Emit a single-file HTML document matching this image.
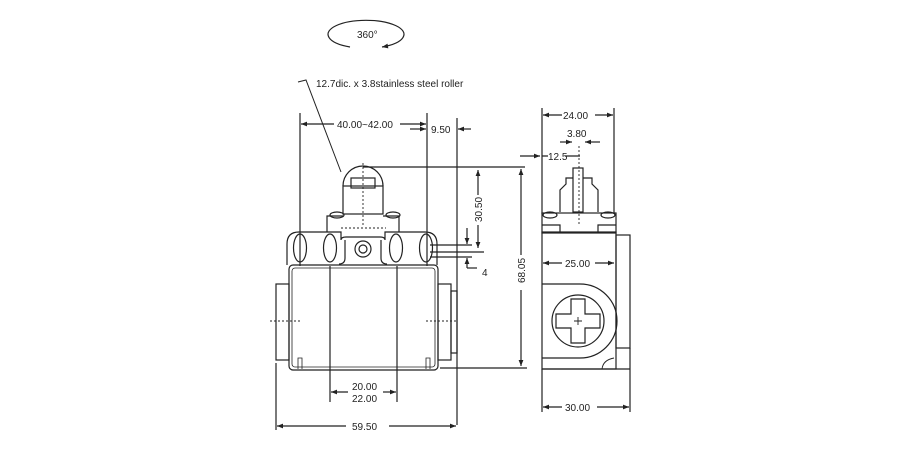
<!DOCTYPE html>
<html><head><style>html,body{margin:0;padding:0;background:#fff}svg{display:block}text{font-family:"Liberation Sans",sans-serif;font-size:10px;fill:#222}</style></head><body>
<svg width="900" height="450" viewBox="0 0 900 450" xmlns="http://www.w3.org/2000/svg">
<defs><marker id="a" viewBox="0 0 10 10" refX="10" refY="5" markerWidth="7" markerHeight="5" orient="auto-start-reverse"><path d="M0,1 L10,5 L0,9 z" fill="#222"/></marker></defs>
<g stroke="#222" fill="none" stroke-width="1.2">
<!-- 360 -->
<path d="M350,47 A38,14 0 1 1 382,47" marker-end="url(#a)"/>
<path d="M298,82 L306,80 L341,172" stroke-width="1"/>
<!-- front view -->
<path d="M343,186 A20,20 0 0 1 383,186"/>
<rect x="343" y="186" width="40" height="28"/>
<rect x="351" y="178" width="24" height="10"/>
<path d="M327,232 V216 H343 M383,216 H399 V232"/>
<ellipse cx="337" cy="215" rx="7" ry="3"/><ellipse cx="393" cy="215" rx="7" ry="3"/>
<path d="M287,265 V244 Q287,232 299,232 H341 V240 Q341,237 346,237 H380 Q385,237 385,240 V232 H425 Q437,232 437,244 V265"/>
<path d="M345,240 V258 Q345,264 339,264 M381,240 V258 Q381,264 387,264"/>
<ellipse cx="300" cy="248" rx="6.5" ry="14"/><ellipse cx="330" cy="248" rx="6.5" ry="14"/>
<ellipse cx="396" cy="248" rx="6.5" ry="14"/><ellipse cx="426" cy="248" rx="6.5" ry="14"/>
<circle cx="363" cy="249" r="8"/><circle cx="363" cy="249" r="4"/>
<rect x="289" y="265" width="149" height="105" rx="4"/>
<rect x="292" y="268" width="143" height="99" rx="3" stroke-width="0.8"/>
<rect x="276" y="284" width="13" height="76"/>
<rect x="438" y="284" width="13" height="76"/><rect x="451" y="291" width="6" height="62"/>
<path d="M298,369 V358 H302 V369 M426,369 V358 H430 V369" stroke-width="0.8"/>
<path d="M363,163 V225 M341,228 H386 M270,321 H302 M426,321 H458" stroke-dasharray="2,2" stroke-width="0.9"/>
<!-- dims front -->
<path d="M300,113 V266 M427,113 V266 M457,118 V425 M363,167 H525 M440,368 H527"/>
<path d="M330,266 V402 M397,266 V402 M276,363 V430"/>
<line x1="334" y1="124" x2="301" y2="124" marker-end="url(#a)"/>
<line x1="400" y1="124" x2="426" y2="124" marker-end="url(#a)"/>
<line x1="410" y1="129" x2="426" y2="129" marker-end="url(#a)"/>
<line x1="471" y1="129" x2="458" y2="129" marker-end="url(#a)"/>
<line x1="348" y1="392" x2="331" y2="392" marker-end="url(#a)"/>
<line x1="383" y1="392" x2="396" y2="392" marker-end="url(#a)"/>
<line x1="346" y1="426" x2="277" y2="426" marker-end="url(#a)"/>
<line x1="389" y1="426" x2="456" y2="426" marker-end="url(#a)"/>
<line x1="521" y1="255" x2="521" y2="169" marker-end="url(#a)"/>
<line x1="521" y1="290" x2="521" y2="366" marker-end="url(#a)"/>
<line x1="478" y1="195" x2="478" y2="170" marker-end="url(#a)"/>
<line x1="478" y1="225" x2="478" y2="248" marker-end="url(#a)"/>
<path d="M430,245 H472 M430,252 H484 M430,257 H472"/>
<line x1="467" y1="228" x2="467" y2="244" marker-end="url(#a)"/>
<path d="M477,268 H467"/><line x1="467" y1="268" x2="467" y2="258" marker-end="url(#a)"/>
<!-- side view -->
<path d="M542,108 V214 M614,108 V214"/>
<line x1="562" y1="115" x2="543" y2="115" marker-end="url(#a)"/>
<line x1="595" y1="115" x2="613" y2="115" marker-end="url(#a)"/>
<line x1="560" y1="142" x2="572" y2="142" marker-end="url(#a)"/>
<line x1="600" y1="142" x2="585" y2="142" marker-end="url(#a)"/>
<line x1="520" y1="156" x2="540" y2="156" marker-end="url(#a)"/>
<path d="M542,156 H548 M565,156 H580"/>
<rect x="573" y="168" width="10" height="44"/>
<path d="M560,212 V190 L566,184 V178 H573 M598,212 V190 L592,184 V178 H583"/>
<ellipse cx="550" cy="215" rx="7" ry="3"/><ellipse cx="608" cy="215" rx="7" ry="3"/>
<rect x="542" y="213" width="74" height="20"/>
<path d="M560,233 V225 H542 M598,233 V225 H616"/>
<rect x="542" y="232" width="74" height="137"/>
<rect x="616" y="235" width="14" height="113"/>
<path d="M542,284 H580 A36,36 0 0 1 580,358 H542"/>
<circle cx="578" cy="321" r="26"/>
<path d="M571,299 H585 V314 H600 V328 H585 V343 H571 V328 H556 V314 H571 Z"/>
<path d="M602,369 Q603,360 614,358" stroke-width="0.9"/>
<path d="M542,369 V412 M630,348 V412 M542,369 H630"/>
<path d="M579,146 V225" stroke-dasharray="2,2" stroke-width="0.9"/>
<path d="M574,321 H582 M578,317 V325" stroke-width="0.9"/>
<line x1="562" y1="263" x2="543" y2="263" marker-end="url(#a)"/>
<line x1="595" y1="263" x2="614" y2="263" marker-end="url(#a)"/>
<line x1="562" y1="407" x2="543" y2="407" marker-end="url(#a)"/>
<line x1="597" y1="407" x2="629" y2="407" marker-end="url(#a)"/>
</g>
<text x="357" y="38">360°</text>
<text x="316" y="87">12.7dic. x 3.8stainless steel roller</text>
<text x="337" y="128">40.00~42.00</text>
<text x="431" y="133">9.50</text>
<text x="352" y="390">20.00</text>
<text x="352" y="402">22.00</text>
<text x="352" y="430">59.50</text>
<text x="482" y="276">4</text>
<text transform="translate(525,283) rotate(-90)">68.05</text>
<text transform="translate(482,222) rotate(-90)">30.50</text>
<text x="563" y="119">24.00</text>
<text x="567" y="137">3.80</text>
<text x="548" y="160">12.5</text>
<text x="565" y="267">25.00</text>
<text x="565" y="411">30.00</text>
</svg>
</body></html>
